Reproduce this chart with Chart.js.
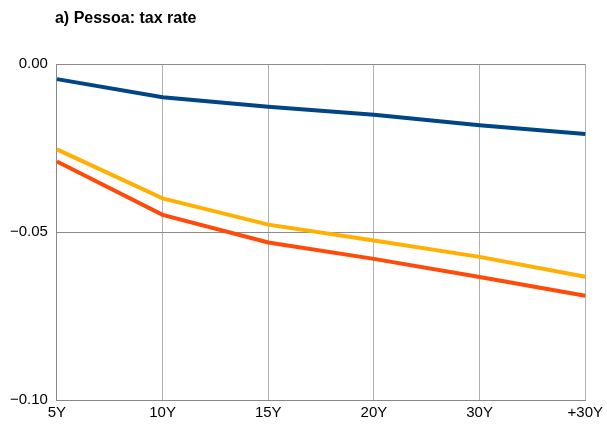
<!DOCTYPE html>
<html>
<head>
<meta charset="utf-8">
<script src="https://cdn.jsdelivr.net/npm/chart.js@4/dist/chart.umd.min.js"></script>
<style>
html, body { margin: 0; padding: 0; background: #fff; }
#wrap { width: 607px; height: 432px; }
</style>
</head>
<body>
<div id="wrap"><canvas id="chart"></canvas></div>
<script>
const categories = ['5Y', '10Y', '15Y', '20Y', '30Y', '+30Y'];
const seriesBlue = [-0.0045, -0.0099, -0.0127, -0.0151, -0.0182, -0.0208];
const seriesGold = [-0.0254, -0.0400, -0.0478, -0.0525, -0.0574, -0.0633];
const seriesRed = [-0.0290, -0.0449, -0.0531, -0.0580, -0.0634, -0.0690];
const yTicks = [0, -0.05, -0.10];

const titlePlugin = {
  id: 'leftTitle',
  afterDraw(chart) {
    const { ctx, chartArea } = chart;
    ctx.save();
    ctx.font = 'bold 16px "Liberation Sans", Arial, sans-serif';
    ctx.fillStyle = '#000';
    ctx.textBaseline = 'middle';
    ctx.fillText('a) Pessoa: tax rate', chartArea.left - 2, 19);
    ctx.restore();
  }
};

const line = (data, color) => ({
  data,
  borderColor: color,
  backgroundColor: color,
  borderWidth: 4,
  pointRadius: 0,
  tension: 0,
  fill: false
});

new Chart(document.getElementById('chart'), {
  type: 'line',
  data: {
    labels: categories,
    datasets: [
      line(seriesBlue, '#004586'),
      line(seriesGold, '#ffb000'),
      line(seriesRed, '#ff4a0a')
    ]
  },
  options: {
    responsive: true,
    maintainAspectRatio: false,
    animation: false,
    layout: { padding: { top: 64, left: 1, right: 1, bottom: 6 } },
    plugins: { legend: { display: false }, tooltip: { enabled: false } },
    scales: {
      x: {
        offset: false,
        grid: { color: '#b0b0b0', lineWidth: 1, drawTicks: false },
        border: { color: '#888', width: 1 },
        ticks: {
          color: '#000',
          padding: 4,
          maxRotation: 0,
          font: { family: '"Liberation Sans", Arial, sans-serif', size: 15 }
        }
      },
      y: {
        min: -0.1,
        max: 0,
        afterBuildTicks: (axis) => { axis.ticks = yTicks.map(v => ({ value: v })); },
        grid: { color: '#8c8c8c', lineWidth: 1, drawTicks: false },
        border: { color: '#888', width: 1 },
        ticks: {
          color: '#000',
          padding: 9,
          font: { family: '"Liberation Sans", Arial, sans-serif', size: 15 },
          callback: (v) => v.toFixed(2).replace('-', '\u2212')
        }
      }
    }
  },
  plugins: [titlePlugin]
});
</script>
</body>
</html>
